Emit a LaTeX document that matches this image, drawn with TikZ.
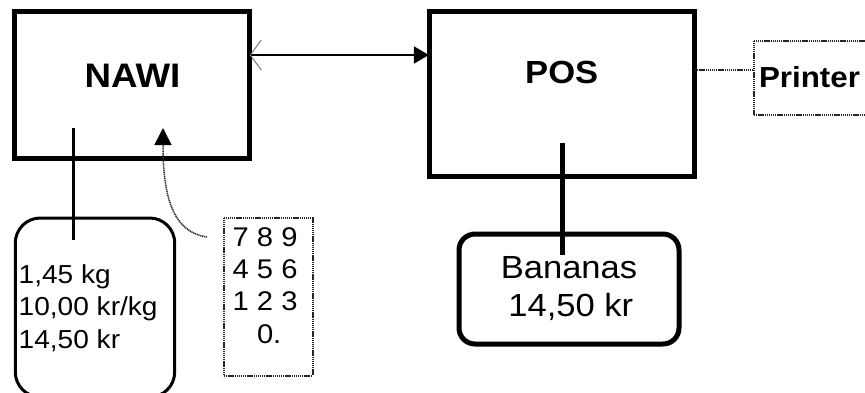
\documentclass[tikz,border=0pt]{standalone}
\usepackage{fontspec}
\setmainfont[FakeStretch=1.08]{Liberation Sans}
\usetikzlibrary{arrows.meta}
\begin{document}
\begin{tikzpicture}[x=1pt,y=-1pt,
  thickbox/.style={draw=black,line width=5pt,fill=none},
  dotline/.style={draw=black!85,line width=1.5pt,dash pattern=on 1.2pt off 0.7pt},
  dotbox/.style={dotline,inner sep=0pt},
  lbl/.style={inner sep=0pt,anchor=base,text=black},
  lbll/.style={inner sep=0pt,anchor=base west,text=black}]
\clip (0,0) rectangle (865,392);
\fill[white] (0,0) rectangle (865,392);
% boxes
\draw[thickbox] (14.7,11.7) rectangle (249.5,158);
\node[inner sep=0pt,minimum width=234.8pt,minimum height=146.3pt] (nawi) at (132.1,84.85) {};
\draw[thickbox] (429,11) rectangle (694.5,176.7);
\node[inner sep=0pt,minimum width=265.5pt,minimum height=165.7pt] (pos) at (561.75,93.85) {};
\node[dotbox,minimum width=130pt,minimum height=74pt,anchor=north west] (printer) at (753,40) {};
\draw[black,line width=3pt,rounded corners=25pt] (15.3,218) rectangle (174.7,397);
\node[inner sep=0pt,minimum width=159.4pt,minimum height=179pt] (disp) at (95,307.5) {};
\node[dotbox,minimum width=89pt,minimum height=158pt,anchor=north west] (kp) at (223,217) {};
\node[draw=black,line width=5pt,rounded corners=16pt,inner sep=0pt,minimum width=220pt,minimum height=110pt] (ban) at (569,289) {};
% texts
\node[lbl,font=\fontsize{34}{40}\selectfont\bfseries] (nawit) at (132.5,87) {NAWI};
\node[lbl,font=\fontsize{32}{38}\selectfont\bfseries] (post) at (561.7,83.3) {POS};
\node[lbl,font=\fontsize{29}{34}\selectfont\bfseries] (printert) at (809.5,87.3) {Printer};
\node[lbll,font=\fontsize{26}{32}\selectfont] (d1) at (18.5,283.3) {1,45 kg};
\node[lbll,font=\fontsize{26}{32}\selectfont] (d2) at (18.5,315) {10,00 kr/kg};
\node[lbll,font=\fontsize{26}{32}\selectfont] (d3) at (18.5,348.3) {14,50 kr};
\node[lbll,font=\fontsize{27}{32}\selectfont] (k1) at (232.5,246.7) {7 8 9};
\node[lbll,font=\fontsize{27}{32}\selectfont] (k2) at (232.5,278.3) {4 5 6};
\node[lbll,font=\fontsize{27}{32}\selectfont] (k3) at (232.5,310) {1 2 3};
\node[lbll,font=\fontsize{27}{32}\selectfont] (k4) at (232.5,343.3) {\phantom{7 }0.};
\node[lbl,font=\fontsize{32}{38}\selectfont] (b1) at (569,278.3) {Bananas};
\node[lbl,font=\fontsize{32}{38}\selectfont] (b2) at (570.8,316) {14,50 kr};
% connectors
\draw[line width=2.3pt,{Straight Barb[length=11pt,width=30pt,line width=0.9pt,color=black!55]}-{Triangle[length=15pt,width=17pt]}]
  (nawi.east |- 0,55) -- (pos.west |- 0,55);
\draw[dotline] (pos.east |- 0,70) -- (printer.west |- 0,70);
\coordinate (nawiin) at (73,128);
\coordinate (dispin) at (73,240);
\draw[line width=3pt] (nawiin) -- (dispin);
\coordinate (posin) at (562,143);
\coordinate (banin) at (562,255);
\draw[line width=5pt] (posin) -- (banin);
\coordinate (kpout) at (207,237);
\coordinate (nawikp) at (163,128);
\draw[dotline,-{Triangle[length=17pt,width=17pt,color=black]}]
  (kpout) .. controls (172,232) and (163,195) .. (nawikp);
\end{tikzpicture}
\end{document}
